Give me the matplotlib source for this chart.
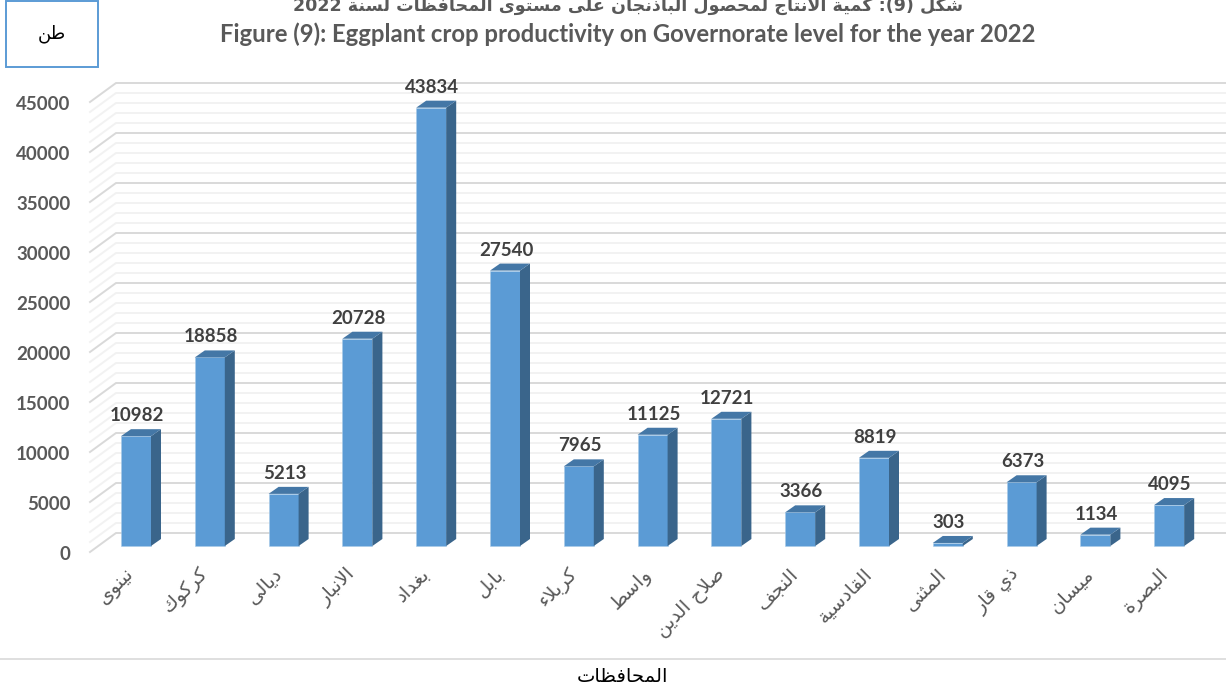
"""Figure (9): eggplant productivity by governorate, 2022 (pseudo-3D Excel style bars)."""
import re
import unicodedata

import matplotlib
matplotlib.use("Agg")
import matplotlib.pyplot as plt
from matplotlib.patches import Polygon, Rectangle
from matplotlib.transforms import ScaledTranslation

governorates = ["نينوى", "كركوك", "ديالى", "الانبار", "بغداد", "بابل", "كربلاء", "واسط",
                "صلاح الدين", "النجف", "القادسية", "المثنى", "ذي قار", "ميسان", "البصرة"]
production = [10982, 18858, 5213, 20728, 43834, 27540, 7965, 11125,
              12721, 3366, 8819, 303, 6373, 1134, 4095]
y_ticks = list(range(0, 45001, 5000))
grid_minor = list(range(0, 45001, 1000))

title_ar = "شكل (9): كمية الانتاج لمحصول الباذنجان على مستوى المحافظات لسنة 2022"
title_en = "Figure (9): Eggplant crop productivity on Governorate level for the year 2022"
x_title = "المحافظات"
y_unit = "طن"

W, H = 1226, 693
PX_PER_CAT = 73.8      # px entre barras
PX_PER_VAL = 0.01      # px por tonelada
X0_PX, Y0_PX = 136.0, 546.0   # centro da 1a barra, base frontal
BAR_PX = 30

FRONT, TOP, SIDE = "#5B9BD5", "#4477A6", "#3A658B"
TITLE_C, LABEL_C = "#595959", "#404040"
LATIN = ["Lato", "DejaVu Sans"]
ARABIC = ["DejaVu Sans"]

NO_NEXT = set("ادذرزوةىء\ufefb")   # letras que nao ligam com a seguinte
NO_JOIN = set("ء")


def form(ch, kind):
    name = unicodedata.name(ch)
    return unicodedata.lookup(f"{name} {kind} FORM")


def shape_word(word):
    """Formas de apresentacao, em ordem visual (matplotlib nao faz shaping)."""
    word = word.replace("لا", "\ufefb")
    out = []
    for i, ch in enumerate(word):
        prev_joins = i > 0 and word[i - 1] not in NO_NEXT
        next_joins = i < len(word) - 1 and ch not in NO_NEXT
        if ch == "\ufefb":
            out.append("\ufefc" if prev_joins else ch)
        elif ch in NO_JOIN:
            out.append(form(ch, "ISOLATED"))
        elif prev_joins and next_joins:
            out.append(form(ch, "MEDIAL"))
        elif prev_joins:
            out.append(form(ch, "FINAL"))
        elif next_joins:
            out.append(form(ch, "INITIAL"))
        else:
            out.append(form(ch, "ISOLATED"))
    return "".join(reversed(out))


def ar(text):
    tokens = []
    for tok in reversed(text.split(" ")):
        if re.search("[\u0600-\u06ff]", tok):
            tokens.append(shape_word(tok))
        elif "(" in tok:
            tokens.append(tok[::-1].translate(str.maketrans("()", ")(")))
        else:
            tokens.append(tok)
    return " ".join(tokens)


def px_x(px):
    return (px - X0_PX) / PX_PER_CAT


def px_y(px):
    return (Y0_PX - px) / PX_PER_VAL


fig = plt.figure(figsize=(W / 100, H / 100), dpi=100)
# axes no retangulo da area de plotagem (px)
left, right, top, bottom = 90, 1226, 80, 552
ax = fig.add_axes([left / W, 1 - bottom / H, (right - left) / W, (bottom - top) / H])
ax.set_xlim(px_x(left), px_x(right))
ax.set_ylim(px_y(bottom), px_y(top))
for s in ax.spines.values():
    s.set_visible(False)

# paredes: cada valor vira uma linha chao -> fundo -> direita
wall_dx = 26 / PX_PER_CAT
front_dy, back_dy = -6 / PX_PER_VAL, 13 / PX_PER_VAL
for v in grid_minor:
    major = v % 5000 == 0
    ax.plot([px_x(left), px_x(left) + wall_dx, px_x(right)],
            [v + front_dy, v + back_dy, v + back_dy],
            color="#D9D9D9" if major else "#F2F2F2", lw=1.4, zorder=1 if major else 0.5,
            solid_joinstyle="miter", clip_on=False)

# barras com profundidade
depth_x, depth_y = 10 / PX_PER_CAT, 7 / PX_PER_VAL
half = BAR_PX / 2 / PX_PER_CAT
positions = list(range(len(production)))
ax.bar(positions, production, width=2 * half, color=FRONT, edgecolor="#A9CBE8", lw=0.4, zorder=3)
for i, v in zip(positions, production):
    ax.add_patch(Polygon([(i + half, 0), (i + half + depth_x, depth_y),
                          (i + half + depth_x, v + depth_y), (i + half, v)],
                         fc=SIDE, ec="none", zorder=3))
    ax.add_patch(Polygon([(i - half, v), (i - half + depth_x, v + depth_y),
                          (i + half + depth_x, v + depth_y), (i + half, v)],
                         fc=TOP, ec="none", zorder=3))
    ax.text(i + 1 / PX_PER_CAT, v + 2050, str(v), ha="center", va="center", fontsize=13.5,
            fontweight="bold", color=LABEL_C, family=LATIN, zorder=4)

ax.set_yticks(y_ticks)
ax.set_yticklabels([str(v) for v in y_ticks], fontsize=13.5, fontweight="bold",
                   color=TITLE_C, family=LATIN)
ax.tick_params(axis="y", length=0, pad=14)
shift = ScaledTranslation(0, -5 / 72, fig.dpi_scale_trans)
for lab in ax.get_yticklabels():
    lab.set_transform(lab.get_transform() + shift)

ax.set_xticks(positions)
ax.set_xticklabels([ar(g) for g in governorates], rotation=45, ha="right", va="top",
                   rotation_mode="anchor", fontsize=14, color=TITLE_C, family=ARABIC)
ax.tick_params(axis="x", length=0, pad=9)
shift_x = ScaledTranslation(-8 / 72, 0, fig.dpi_scale_trans)
for lab in ax.get_xticklabels():
    lab.set_transform(lab.get_transform() + shift_x)

# titulos (a 1a linha fica cortada no topo, como no original)
fig.text(628 / W, 1 - 11 / H, ar(title_ar), ha="center", va="baseline", fontsize=12.6,
         fontweight="bold", color=TITLE_C, family=ARABIC)
fig.text(628 / W, 1 - 42 / H, title_en, ha="center", va="baseline", fontsize=17.2,
         fontweight="bold", color=TITLE_C, family=LATIN)

# caixa da unidade, linha inferior e titulo do eixo x
fig.add_artist(Rectangle((6 / W, 1 - 67 / H), 92 / W, 66 / H, transform=fig.transFigure,
                         fc="white", ec=FRONT, lw=1.4))
fig.text(52 / W, 1 - 34 / H, ar(y_unit), ha="center", va="center", fontsize=13,
         color="black", family=ARABIC)
fig.add_artist(plt.Line2D([0, 1], [1 - 659 / H] * 2, transform=fig.transFigure,
                          color="#D9D9D9", lw=1.2))
fig.text(623 / W, 1 - 677 / H, ar(x_title), ha="center", va="center", fontsize=14,
         color="black", family=ARABIC)

fig.savefig("out.png", dpi=100)
